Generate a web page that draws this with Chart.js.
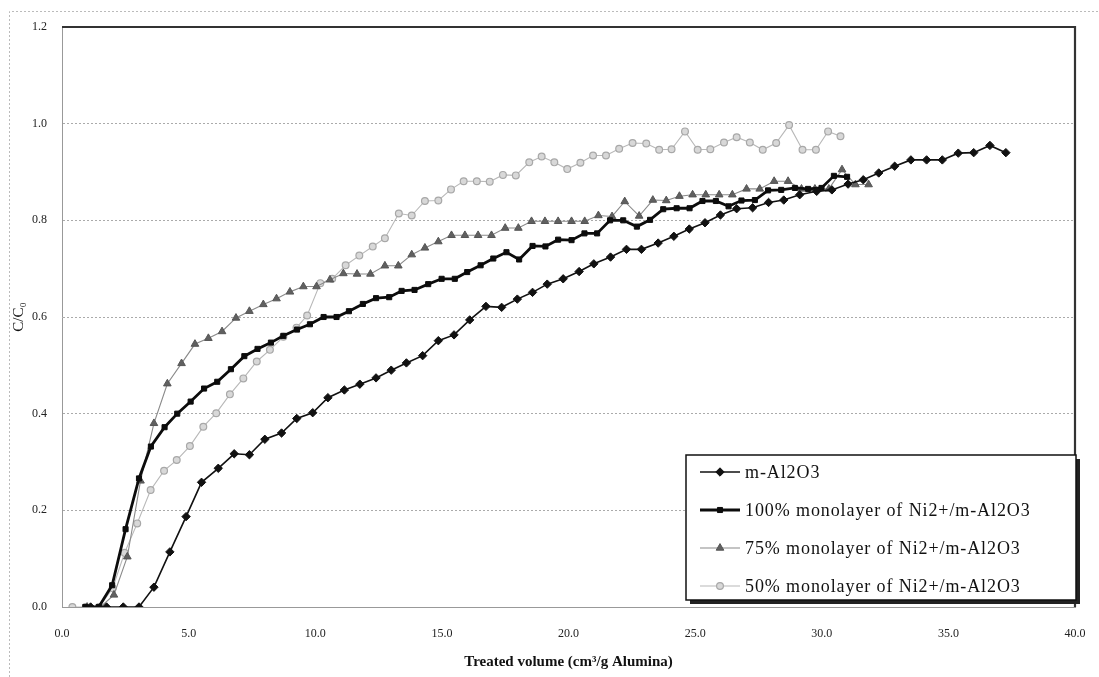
<!DOCTYPE html>
<html>
<head>
<meta charset="utf-8">
<script src="https://cdn.jsdelivr.net/npm/chart.js@4/dist/chart.umd.min.js"></script>
<style>
    html, body { margin: 0; padding: 0; background: #fff; }
    #wrap { position: relative; width: 1099px; height: 677px; }
</style>
</head>
<body>
<div id="wrap"><canvas id="breakthrough"></canvas></div>
<script>
// breakthrough curves: C/C0 against treated volume (cm3/g alumina)
const seriesNames = [
    "m-Al2O3",
    "100% monolayer of Ni2+/m-Al2O3",
    "75% monolayer of Ni2+/m-Al2O3",
    "50% monolayer of Ni2+/m-Al2O3"
];

const alX = [1.13, 1.76, 2.42, 3.04, 3.63, 4.26, 4.9, 5.51, 6.17, 6.8, 7.4, 8.01, 8.67, 9.27, 9.9, 10.5, 11.15, 11.76, 12.4, 13.0,
    13.6, 14.24, 14.86, 15.48, 16.1, 16.74, 17.36, 17.98, 18.58, 19.16, 19.79, 20.42, 21.0, 21.66, 22.29, 22.88, 23.54, 24.16, 24.77, 25.39,
    26.0, 26.64, 27.27, 27.9, 28.5, 29.13, 29.8, 30.4, 31.04, 31.64, 32.25, 32.88, 33.52, 34.14, 34.76, 35.39, 36.0, 36.64, 37.27];
const alY = [0, 0, 0, 0, 0.041, 0.114, 0.187, 0.258, 0.287, 0.317, 0.315, 0.347, 0.36, 0.39, 0.402, 0.433, 0.449, 0.461, 0.474, 0.49,
    0.505, 0.52, 0.551, 0.563, 0.594, 0.622, 0.62, 0.637, 0.651, 0.668, 0.679, 0.694, 0.71, 0.724, 0.74, 0.74, 0.753, 0.767, 0.782, 0.795,
    0.811, 0.824, 0.826, 0.837, 0.842, 0.853, 0.86, 0.863, 0.875, 0.884, 0.898, 0.912, 0.925, 0.925, 0.925, 0.939, 0.94, 0.955, 0.94];

const ni100X = [0.92, 1.45, 1.98, 2.51, 3.04, 3.51, 4.05, 4.55, 5.08, 5.61, 6.13, 6.67, 7.2, 7.72, 8.25, 8.74, 9.28, 9.79, 10.33, 10.84,
    11.33, 11.88, 12.4, 12.92, 13.41, 13.92, 14.46, 14.99, 15.51, 16.0, 16.53, 17.03, 17.55, 18.05, 18.58, 19.09, 19.59, 20.12, 20.63, 21.13,
    21.64, 22.16, 22.7, 23.22, 23.74, 24.27, 24.78, 25.29, 25.82, 26.32, 26.83, 27.36, 27.88, 28.4, 28.94, 29.46, 29.99, 30.48, 31.0];
const ni100Y = [0, 0, 0.045, 0.161, 0.266, 0.332, 0.372, 0.4, 0.425, 0.452, 0.466, 0.492, 0.519, 0.534, 0.547, 0.561, 0.574, 0.585, 0.6, 0.6,
    0.612, 0.627, 0.639, 0.641, 0.654, 0.656, 0.668, 0.679, 0.679, 0.693, 0.707, 0.721, 0.734, 0.719, 0.747, 0.746, 0.76, 0.759, 0.773, 0.773,
    0.8, 0.8, 0.787, 0.801, 0.823, 0.825, 0.825, 0.84, 0.84, 0.829, 0.841, 0.842, 0.862, 0.863, 0.867, 0.865, 0.867, 0.892, 0.89];

const ni75X = [0.99, 1.52, 2.05, 2.58, 3.1, 3.63, 4.16, 4.72, 5.25, 5.78, 6.32, 6.87, 7.4, 7.95, 8.47, 9.0, 9.53, 10.05, 10.58, 11.11,
    11.65, 12.18, 12.75, 13.28, 13.81, 14.33, 14.86, 15.38, 15.91, 16.43, 16.96, 17.5, 18.02, 18.54, 19.07, 19.59, 20.12, 20.64, 21.18, 21.72,
    22.22, 22.79, 23.33, 23.86, 24.38, 24.9, 25.42, 25.95, 26.47, 27.03, 27.55, 28.12, 28.67, 29.2, 29.73, 30.28, 30.8, 31.33, 31.85];
const ni75Y = [0, 0, 0.025, 0.104, 0.261, 0.38, 0.462, 0.504, 0.544, 0.556, 0.57, 0.598, 0.612, 0.626, 0.638, 0.652, 0.663, 0.663, 0.677, 0.69,
    0.689, 0.689, 0.706, 0.706, 0.729, 0.743, 0.756, 0.769, 0.769, 0.769, 0.769, 0.784, 0.784, 0.798, 0.798, 0.798, 0.798, 0.798, 0.81, 0.808,
    0.839, 0.809, 0.842, 0.841, 0.85, 0.853, 0.853, 0.853, 0.853, 0.865, 0.865, 0.881, 0.881, 0.865, 0.865, 0.865, 0.905, 0.874, 0.874];

const ni50X = [0.41, 0.94, 1.47, 2.0, 2.47, 2.97, 3.5, 4.03, 4.53, 5.05, 5.58, 6.09, 6.63, 7.16, 7.69, 8.21, 8.74, 9.26, 9.68, 10.2,
    10.67, 11.2, 11.74, 12.27, 12.75, 13.3, 13.81, 14.33, 14.86, 15.36, 15.86, 16.38, 16.89, 17.41, 17.92, 18.45, 18.94, 19.44, 19.95, 20.47,
    20.97, 21.48, 22.0, 22.53, 23.07, 23.58, 24.07, 24.6, 25.1, 25.6, 26.14, 26.64, 27.16, 27.67, 28.2, 28.71, 29.24, 29.77, 30.25, 30.74];
const ni50Y = [0, 0, 0, 0.039, 0.112, 0.173, 0.242, 0.282, 0.304, 0.333, 0.373, 0.401, 0.44, 0.473, 0.508, 0.532, 0.559, 0.578, 0.603, 0.67,
    0.679, 0.707, 0.727, 0.746, 0.763, 0.814, 0.81, 0.84, 0.841, 0.864, 0.881, 0.881, 0.88, 0.894, 0.893, 0.92, 0.932, 0.92, 0.906, 0.919,
    0.934, 0.934, 0.948, 0.96, 0.959, 0.946, 0.947, 0.984, 0.946, 0.947, 0.961, 0.972, 0.961, 0.946, 0.96, 0.997, 0.946, 0.946, 0.984, 0.974];

const xTicks = [0, 5, 10, 15, 20, 25, 30, 35, 40];
const yTicks = [0, 0.2, 0.4, 0.6, 0.8, 1.0, 1.2];

function toPoints(xs, ys) {
    return xs.map((x, i) => ({x: x, y: ys[i]}));
}

const serif = "'Liberation Serif', 'DejaVu Serif', serif";

const datasets = [
    {
        label: seriesNames[0], data: toPoints(alX, alY),
        borderColor: "#111", backgroundColor: "#111", borderWidth: 1.6,
        pointStyle: "rectRot", pointRadius: 4.2, pointBorderWidth: 1, order: 1
    },
    {
        label: seriesNames[1], data: toPoints(ni100X, ni100Y),
        borderColor: "#0c0c0c", backgroundColor: "#0c0c0c", borderWidth: 2.8,
        pointStyle: "rect", pointRadius: 3.6, pointBorderWidth: 1, order: 2
    },
    {
        label: seriesNames[2], data: toPoints(ni75X, ni75Y),
        borderColor: "#8a8a8a", backgroundColor: "#606060", borderWidth: 1.1,
        pointBorderColor: "#555", pointStyle: "triangle", pointRadius: 4.4, pointBorderWidth: 1, order: 3
    },
    {
        label: seriesNames[3], data: toPoints(ni50X, ni50Y),
        borderColor: "#b8b8b8", backgroundColor: "#d8d8d8", borderWidth: 1.1,
        pointBorderColor: "#a8a8a8", pointStyle: "circle", pointRadius: 3.4, pointBorderWidth: 1.2, order: 4
    }
];

// plot frame (dark top / right edges) plus the faint outer figure border
const framePlugin = {
    id: "frame",
    afterDraw(chart) {
        const {ctx, chartArea: a} = chart;
        ctx.save();
        ctx.strokeStyle = "#bbb";
        ctx.lineWidth = 1;
        ctx.setLineDash([2, 2]);
        ctx.beginPath();
        ctx.moveTo(9.5, chart.height);
        ctx.lineTo(9.5, 11.5);
        ctx.lineTo(chart.width, 11.5);
        ctx.stroke();
        ctx.setLineDash([]);
        ctx.strokeStyle = "#333";
        ctx.lineWidth = 2.2;
        ctx.beginPath();
        ctx.moveTo(a.left, a.top);
        ctx.lineTo(a.right, a.top);
        ctx.lineTo(a.right, a.bottom);
        ctx.stroke();
        ctx.restore();
    }
};

// boxed legend with drop shadow in the lower right of the plot
const boxLegendPlugin = {
    id: "boxLegend",
    afterDraw(chart) {
        const {ctx, chartArea: a} = chart;
        const w = 390, h = 145;
        const left = a.right - w + 1, top = a.bottom - h - 7;
        ctx.save();
        ctx.fillStyle = "#222";
        ctx.fillRect(left + 4, top + 4, w, h);
        ctx.fillStyle = "#fff";
        ctx.fillRect(left, top, w, h);
        ctx.strokeStyle = "#111";
        ctx.lineWidth = 1.5;
        ctx.strokeRect(left, top, w, h);

        ctx.font = "18px " + serif;
        ctx.letterSpacing = "0.9px";
        ctx.textBaseline = "middle";
        ctx.textAlign = "left";
        chart.data.datasets.forEach((ds, i) => {
            const y = top + 17 + i * 38;
            const x0 = left + 14, x1 = left + 54;
            ctx.strokeStyle = ds.borderColor;
            ctx.lineWidth = ds.borderWidth;
            ctx.beginPath();
            ctx.moveTo(x0, y);
            ctx.lineTo(x1, y);
            ctx.stroke();
            ctx.fillStyle = ds.backgroundColor;
            ctx.strokeStyle = ds.pointBorderColor || ds.borderColor;
            ctx.lineWidth = ds.pointBorderWidth;
            Chart.helpers.drawPoint(ctx, {
                pointStyle: ds.pointStyle, radius: ds.pointRadius, rotation: 0, borderWidth: ds.pointBorderWidth
            }, (x0 + x1) / 2, y);
            ctx.fillStyle = "#111";
            ctx.fillText(ds.label, x1 + 5, y + 1);
        });
        ctx.restore();
    }
};

const canvas = document.getElementById("breakthrough");
new Chart(canvas.getContext("2d"), {
    type: "line",
    data: {datasets: datasets},
    options: {
        responsive: true,
        maintainAspectRatio: false,
        animation: false,
        layout: {padding: {top: 27, right: 24, left: 0, bottom: 0}},
        plugins: {legend: {display: false}, tooltip: {enabled: false}},
        elements: {line: {tension: 0}},
        scales: {
            x: {
                type: "linear", min: 0, max: 40,
                afterBuildTicks: (s) => { s.ticks = xTicks.map(v => ({value: v})); },
                afterFit: (s) => { s.height = 70; s.paddingLeft = 0; s.paddingRight = 0; },
                grid: {display: false, drawTicks: false},
                border: {display: true, color: "#999", width: 1, dash: [2, 2]},
                ticks: {
                    padding: 20, color: "#222",
                    font: {family: serif, size: 12},
                    callback: (v) => v.toFixed(1)
                },
                title: {
                    display: true, text: "Treated volume (cm³/g Alumina)", color: "#111",
                    font: {family: serif, size: 15, weight: "bold"},
                    padding: {top: 0, bottom: 6}
                }
            },
            y: {
                min: 0, max: 1.2,
                afterBuildTicks: (s) => { s.ticks = yTicks.map(v => ({value: v})); },
                afterFit: (s) => { s.width = 62; s.paddingTop = 0; s.paddingBottom = 0; },
                grid: {color: "#aaa", lineWidth: 1, drawTicks: false, tickBorderDash: [2, 2]},
                border: {display: true, color: "#999", width: 1, dash: [2, 2]},
                ticks: {
                    padding: 15, color: "#222",
                    font: {family: serif, size: 12},
                    callback: (v) => v.toFixed(1)
                },
                title: {
                    display: true, text: "C/C₀", color: "#111",
                    font: {family: serif, size: 15},
                    padding: {top: 10, bottom: 0}
                }
            }
        }
    },
    plugins: [framePlugin, boxLegendPlugin]
});
</script>
</body>
</html>
